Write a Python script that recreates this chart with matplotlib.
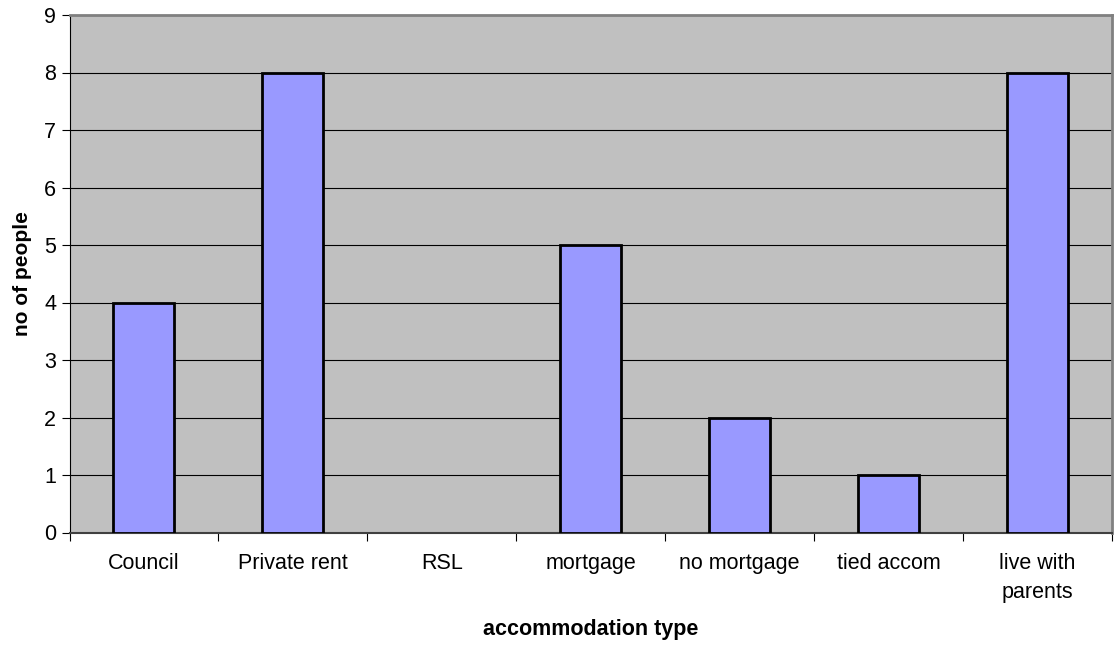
import matplotlib.pyplot as plt
import numpy as np

plt.rcParams['font.family'] = ['Liberation Sans', 'DejaVu Sans']

categories = ['Council', 'Private rent', 'RSL', 'mortgage', 'no mortgage', 'tied accom', 'live with\nparents']
counts = [4, 8, 0, 5, 2, 1, 8]

fig = plt.figure(figsize=(11.17, 6.46), dpi=100)
ax = fig.add_axes([69.5 / 1117, (646 - 532.5) / 646, (1112 - 69.5) / 1117, (532.5 - 15) / 646])
ax.set_facecolor('#C0C0C0')

x = np.arange(len(categories))
# zero-height bars leave no outline, as in the original
edges = ['black' if c > 0 else 'none' for c in counts]
ax.bar(x, counts, width=0.41, color='#9999FF', edgecolor=edges, linewidth=2, zorder=3)

ax.set_xlim(-0.5, len(categories) - 0.5)
ax.set_ylim(0, 9)
ax.set_yticks(range(0, 10))
ax.yaxis.grid(True, color='black', linewidth=0.8, zorder=0)

# category labels centred, tick marks on the boundaries
ax.set_xticks(np.arange(-0.5, len(categories), 1))
ax.set_xticklabels([])
ax.set_xticks(x, minor=True)
ax.set_xticklabels(categories, minor=True, fontsize=15.5, va='top', linespacing=1.45)
ax.tick_params(axis='x', which='minor', length=0, pad=15)
ax.tick_params(axis='x', which='major', length=6, direction='out', color='black')
ax.tick_params(axis='y', length=6, labelsize=15.5, color='black')

for side in ['top', 'right']:
    ax.spines[side].set_color('#808080')
    ax.spines[side].set_linewidth(2)
ax.spines['left'].set_color('black')
ax.spines['bottom'].set_color('#404040')
ax.spines['bottom'].set_linewidth(1.5)

ax.set_ylabel('no of people', fontsize=15, fontweight='bold', labelpad=9)
ax.set_xlabel('accommodation type', fontsize=15.5, fontweight='bold', labelpad=12)

fig.savefig('out.png', dpi=100)
